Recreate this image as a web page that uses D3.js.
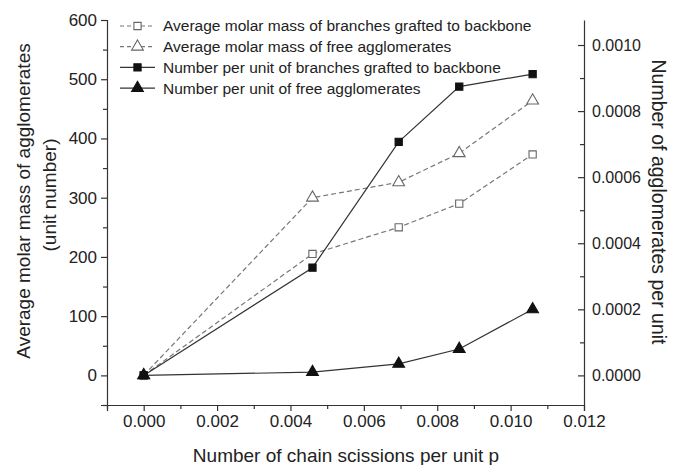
<!DOCTYPE html>
<html>
    <head>
        <style>
            body{
                margin: 0;
                background-color: white;
            }
            text{
                font-family: "Liberation Sans", Arial, sans-serif;
                fill: #222;
            }
            .axis path, .axis line{
                stroke: #333;
                stroke-width: 1.2;
            }
        </style>
        <script src="https://d3js.org/d3.v7.min.js"></script>
    </head>
    <body>
        <script>
            const w = 688;
            const h = 465;

            // chain scissions per unit p
            const pValues = [0, 0.0046, 0.00695, 0.0086, 0.0106];
            // left axis: average molar mass (unit number)
            const molarGrafted = [0, 205, 250, 290, 373];
            const molarFree = [0, 300, 326, 375, 464];
            // right axis: number of agglomerates per unit
            const numberGrafted = [0, 0.000326, 0.000707, 0.000874, 0.000912];
            const numberFree = [0, 0.00001, 0.000035, 0.00008, 0.0002];

            const xTicks = [0, 0.002, 0.004, 0.006, 0.008, 0.010, 0.012];
            const xMinor = [-0.001, 0.001, 0.003, 0.005, 0.007, 0.009, 0.011];
            const leftTicks = [0, 100, 200, 300, 400, 500, 600];
            const leftMinor = [-50, 50, 150, 250, 350, 450, 550];
            const rightTicks = [0, 0.0002, 0.0004, 0.0006, 0.0008, 0.0010];
            const rightMinor = [0.0001, 0.0003, 0.0005, 0.0007, 0.0009];

            const legendLabels = ["Average molar mass of branches grafted to backbone",
                                  "Average molar mass of free agglomerates",
                                  "Number per unit of branches grafted to backbone",
                                  "Number per unit of free agglomerates"];

            const svg = d3.select("body")
                        .append("svg")
                        .attr("width", w)
                        .attr("height", h);

            const xScale = d3.scaleLinear().domain([-0.001, 0.012]).range([107, 584]);
            const yLeft = d3.scaleLinear().domain([-50, 600]).range([405, 20]);
            const yRight = d3.scaleLinear().domain([-0.0000896, 0.0010757]).range([405, 20]);

            // bottom axis
            svg.append("g").attr("class", "axis")
                .attr("transform", "translate(0,405)")
                .call(d3.axisBottom(xScale).tickValues(xTicks).tickFormat(d3.format(".3f")).tickSizeOuter(0).tickSize(6).tickPadding(4))
                .selectAll("text").style("font-size", "17px");
            svg.append("g").attr("class", "axis")
                .attr("transform", "translate(0,405)")
                .call(d3.axisBottom(xScale).tickValues(xMinor).tickFormat("").tickSize(4))
                .select(".domain").remove();

            // left axis
            svg.append("g").attr("class", "axis")
                .attr("transform", "translate(107,0)")
                .call(d3.axisLeft(yLeft).tickValues(leftTicks).tickSizeOuter(0).tickSize(6).tickPadding(4))
                .selectAll("text").style("font-size", "17px");
            svg.append("g").attr("class", "axis")
                .attr("transform", "translate(107,0)")
                .call(d3.axisLeft(yLeft).tickValues(leftMinor).tickFormat("").tickSize(4))
                .select(".domain").remove();

            // right axis, ticks point inward
            svg.append("g").attr("class", "axis")
                .attr("transform", "translate(584,0)")
                .call(d3.axisRight(yRight).tickValues(rightTicks).tickFormat(d3.format(".4f")).tickSizeOuter(0).tickSizeInner(-6).tickPadding(8))
                .selectAll("text").style("font-size", "16px");
            svg.append("g").attr("class", "axis")
                .attr("transform", "translate(584,0)")
                .call(d3.axisRight(yRight).tickValues(rightMinor).tickFormat("").tickSizeInner(-4).tickSizeOuter(0))
                .select(".domain").remove();

            // axis titles
            svg.append("text")
                .attr("transform", "translate(23,201) rotate(-90)")
                .attr("text-anchor", "middle")
                .attr("dy", "0.35em")
                .style("font-size", "19px")
                .text("Average molar mass of agglomerates");
            svg.append("text")
                .attr("transform", "translate(49,195) rotate(-90)")
                .attr("text-anchor", "middle")
                .attr("dy", "0.35em")
                .style("font-size", "19px")
                .text("(unit number)");
            svg.append("text")
                .attr("transform", "translate(659,202) rotate(90)")
                .attr("text-anchor", "middle")
                .attr("dy", "0.35em")
                .style("font-size", "19.5px")
                .text("Number of agglomerates per unit");
            svg.append("text")
                .attr("x", 346)
                .attr("y", 455)
                .attr("text-anchor", "middle")
                .attr("dy", "0.35em")
                .style("font-size", "19px")
                .text("Number of chain scissions per unit p");

            const series = [
                {values: molarGrafted, y: yLeft, dash: "5,3", color: "#777", marker: "square", filled: false},
                {values: molarFree, y: yLeft, dash: "5,3", color: "#777", marker: "triangle", filled: false},
                {values: numberGrafted, y: yRight, dash: null, color: "#333", marker: "square", filled: true},
                {values: numberFree, y: yRight, dash: null, color: "#333", marker: "triangle", filled: true}
            ];

            const sqSym = d3.symbol().type(d3.symbolSquare).size(52);
            const triSym = d3.symbol().type(d3.symbolTriangle).size(60);

            function drawMarker(g, s, cx, cy){
                g.append("path")
                    .attr("d", s.marker == "square" ? sqSym() : triSym())
                    .attr("transform", "translate(" + cx + "," + cy + ")")
                    .attr("fill", s.filled ? "#111" : "white")
                    .attr("stroke", s.filled ? "#111" : "#666")
                    .attr("stroke-width", 1.1);
            }

            series.forEach(s => {
                const line = d3.line()
                    .x((d, i) => xScale(pValues[i]))
                    .y(d => s.y(d));
                svg.append("path")
                    .datum(s.values)
                    .attr("d", line)
                    .attr("fill", "none")
                    .attr("stroke", s.color)
                    .attr("stroke-width", 1.2)
                    .attr("stroke-dasharray", s.dash);
                const g = svg.append("g");
                s.values.forEach((d, i) => drawMarker(g, s, xScale(pValues[i]), s.y(d)));
            });

            // legend
            const legend = svg.append("g");
            series.forEach((s, i) => {
                const ly = 26 + i * 20.7;
                legend.append("line")
                    .attr("x1", 120).attr("x2", 155)
                    .attr("y1", ly).attr("y2", ly)
                    .attr("stroke", s.color)
                    .attr("stroke-width", 1.2)
                    .attr("stroke-dasharray", s.dash ? "4,3" : null);
                drawMarker(legend, s, 137.5, ly);
                legend.append("text")
                    .attr("x", 163)
                    .attr("y", ly)
                    .attr("dy", "0.35em")
                    .style("font-size", "15.5px")
                    .text(legendLabels[i]);
            });
        </script>
    </body>
</html>
